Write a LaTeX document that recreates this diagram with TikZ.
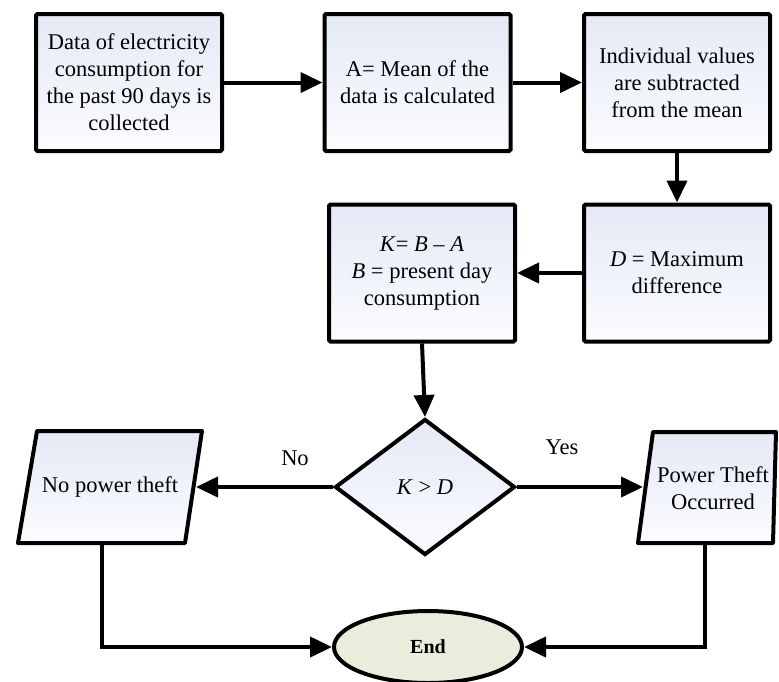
\documentclass[tikz,border=0pt]{standalone}
\usepackage{fontspec}
\setmainfont{Liberation Serif}
\usetikzlibrary{shapes.geometric,arrows.meta}
\definecolor{boxtop}{HTML}{E4E9F5}
\definecolor{boxbot}{HTML}{FBFCFF}
\definecolor{endfill}{HTML}{E9EEDC}
\tikzset{
  txt/.style={font=\fontsize{22.5}{27}\selectfont, align=center},
  stepbox/.style={txt, draw, line width=4pt, rounded corners=1.5pt,
    top color=boxtop, bottom color=boxbot,
    minimum width=186pt, minimum height=137pt, inner sep=0pt},
  decision/.style={txt, diamond, draw, line width=4pt,
    top color=boxtop, bottom color=boxbot,
    minimum width=180pt, minimum height=136pt, inner sep=0pt},
  terminal/.style={ellipse, draw, line width=4pt, fill=endfill,
    minimum width=188pt, minimum height=72pt, inner sep=0pt,
    font=\fontsize{20}{24}\selectfont\bfseries},
  ioshape/.style={draw, line width=4pt, line join=round,
    top color=boxtop, bottom color=boxbot},
  flow/.style={line width=4pt, -{Triangle[length=22pt,width=20pt]}}
}
\begin{document}
\begin{tikzpicture}[x=1pt, y=-1pt]
\useasboundingbox (0,0) rectangle (779,681);

% process boxes
\node[stepbox] (collect) at (129,82.5)
  {Data of electricity\\consumption for\\the past 90 days is\\collected};
\node[stepbox] (mean) at (417.5,82.5) {A= Mean of the\\data is calculated};
\node[stepbox] (subtract) at (677,82.5)
  {Individual values\\are subtracted\\from the mean};
\node[stepbox] (maxdiff) at (677,273) {\textit{D} = Maximum\\difference};
\node[stepbox] (kvalue) at (422,273)
  {\textit{K}= \textit{B} – \textit{A}\\\textit{B} = present day\\consumption};

% decision
\node[decision] (test) at (425,487) {\textit{K} > \textit{D}};

% output parallelograms
\path[ioshape] (37,431) -- (202,431) -- (185,543) -- (18,543) -- cycle;
\node[txt] (nothe) at (110,487) {No power theft};
\coordinate (notheR) at (196,487);
\coordinate (notheB) at (102,545);

\path[ioshape] (653,432) -- (776,432) -- (773,543) -- (638,543) -- cycle;
\node[txt] (theft) at (713,488) {Power Theft\\Occurred};
\coordinate (theftL) at (643,487);
\coordinate (theftB) at (705,545);

% terminator
\node[terminal] (finish) at (428,647) {End};

% branch labels
\node[txt] (nolbl) at (295,458) {No};
\node[txt] (yeslbl) at (562,447) {Yes};

% connectors
\draw[flow] (collect.east) -- (mean.west);
\draw[flow] (mean.east) -- (subtract.west);
\draw[flow] (subtract.south) -- (maxdiff.north);
\draw[flow] (maxdiff.west) -- (kvalue.east);
\draw[flow] (kvalue.south) -- (test.north);
\draw[flow] (test.west) -- (notheR);
\draw[flow] (test.east) -- (theftL);
\draw[flow] (notheB) |- (finish.west);
\draw[flow] (theftB) |- (finish.east);
\end{tikzpicture}
\end{document}
